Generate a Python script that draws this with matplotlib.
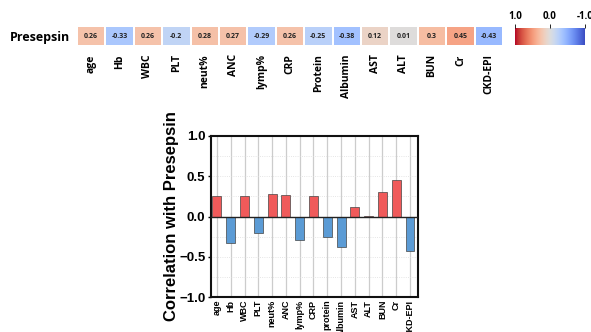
import matplotlib
matplotlib.use("Agg")
import matplotlib.pyplot as plt
import numpy as np

# correlations of each lab value with presepsin
heat_labels = ["age", "Hb", "WBC", "PLT", "neut%", "ANC", "lymp%", "CRP",
               "Protein", "Albumin", "AST", "ALT", "BUN", "Cr", "CKD-EPI"]
bar_labels = ["age", "Hb", "WBC", "PLT", "neut%", "ANC", "lymp%", "CRP",
              "protein", "Albumin", "AST", "ALT", "BUN", "Cr", "CKD-EPI"]
corr = [0.26, -0.33, 0.26, -0.2, 0.28, 0.27, -0.29, 0.26,
        -0.25, -0.38, 0.12, 0.01, 0.3, 0.45, -0.43]
cbar_ticks = [1.0, 0.0, -1.0]

W, H = 591, 332
fig = plt.figure(figsize=(W / 100, H / 100), dpi=100)

def box(x0, y0, x1, y1):
    return [x0 / W, 1 - y1 / H, (x1 - x0) / W, (y1 - y0) / H]

cmap = plt.get_cmap("coolwarm")

# heatmap strip
ax_h = fig.add_axes(box(77, 26, 503, 46))
vals = np.array(corr)[None, :]
ax_h.pcolormesh(vals, cmap=cmap, vmin=-1, vmax=1, edgecolors="white", linewidth=1.2)
for i, v in enumerate(corr):
    ax_h.text(i + 0.5, 0.5, str(v), ha="center", va="center", fontsize=5,
              family="Open Sans", fontweight="bold", color="#222222")
ax_h.set_xlim(0, len(corr))
ax_h.set_ylim(0, 1)
ax_h.set_xticks(np.arange(len(corr)) + 0.5)
ax_h.set_xticklabels(heat_labels, rotation=90, family="Open Sans",
                     fontweight="bold", fontsize=7.5)
ax_h.set_yticks([0.5])
ax_h.set_yticklabels(["Presepsin"], family="Open Sans", fontweight="bold", fontsize=9)
ax_h.tick_params(axis="x", length=0, pad=6)
ax_h.tick_params(axis="y", length=0, pad=5)
for s in ax_h.spines.values():
    s.set_visible(False)

# colorbar, red on the left
ax_c = fig.add_axes(box(515, 28, 585, 45))
grad = np.linspace(1, -1, 256)[None, :]
ax_c.imshow(grad, cmap=cmap, vmin=-1, vmax=1, aspect="auto",
            extent=[1, -1, 0, 1])
ax_c.set_xlim(1, -1)
ax_c.set_xticks(cbar_ticks)
ax_c.set_xticklabels(["1.0", "0.0", "-1.0"], family="Open Sans",
                     fontweight="bold", fontsize=7)
ax_c.xaxis.tick_top()
ax_c.tick_params(axis="x", length=3, width=0.6, pad=1)
ax_c.set_yticks([])
for s in ax_c.spines.values():
    s.set_visible(False)

# bar chart
ax = fig.add_axes(box(211, 136, 418, 297))
x = np.arange(len(corr))
colors = ["#f05a5a" if v >= 0 else "#5b9bd5" for v in corr]
ax.bar(x, corr, width=0.65, color=colors, edgecolor="#444444", linewidth=0.5, zorder=3)
ax.axhline(0, color="#222222", lw=1.0, zorder=4)
ax.set_xlim(-0.43, len(corr) - 0.42)
ax.set_ylim(-1, 1)
ax.set_yticks([-1.0, -0.5, 0.0, 0.5, 1.0])
ax.set_yticks(np.arange(-0.75, 1, 0.5), minor=True)
ax.set_xticks(x)
ax.set_xticklabels(bar_labels, rotation=90, family="Liberation Sans",
                   fontweight="bold", fontsize=6.5)
for lab in ax.get_yticklabels():
    lab.set_family("Liberation Sans")
    lab.set_fontweight("bold")
    lab.set_fontsize(9.5)
ax.tick_params(axis="x", length=0, pad=2)
ax.tick_params(axis="y", which="major", length=2, width=1, pad=2)
ax.tick_params(axis="y", which="minor", length=0)
ax.grid(axis="x", color="#cccccc", lw=0.9, zorder=0)
ax.grid(axis="y", which="both", color="#dddddd", lw=0.6, ls=":", zorder=0)
ax.set_ylabel("Correlation with Presepsin", family="Liberation Sans",
              fontweight="bold", fontsize=12, labelpad=0)
for s in ax.spines.values():
    s.set_linewidth(1.5)
    s.set_color("#111111")

fig.savefig("out.png", dpi=100)
